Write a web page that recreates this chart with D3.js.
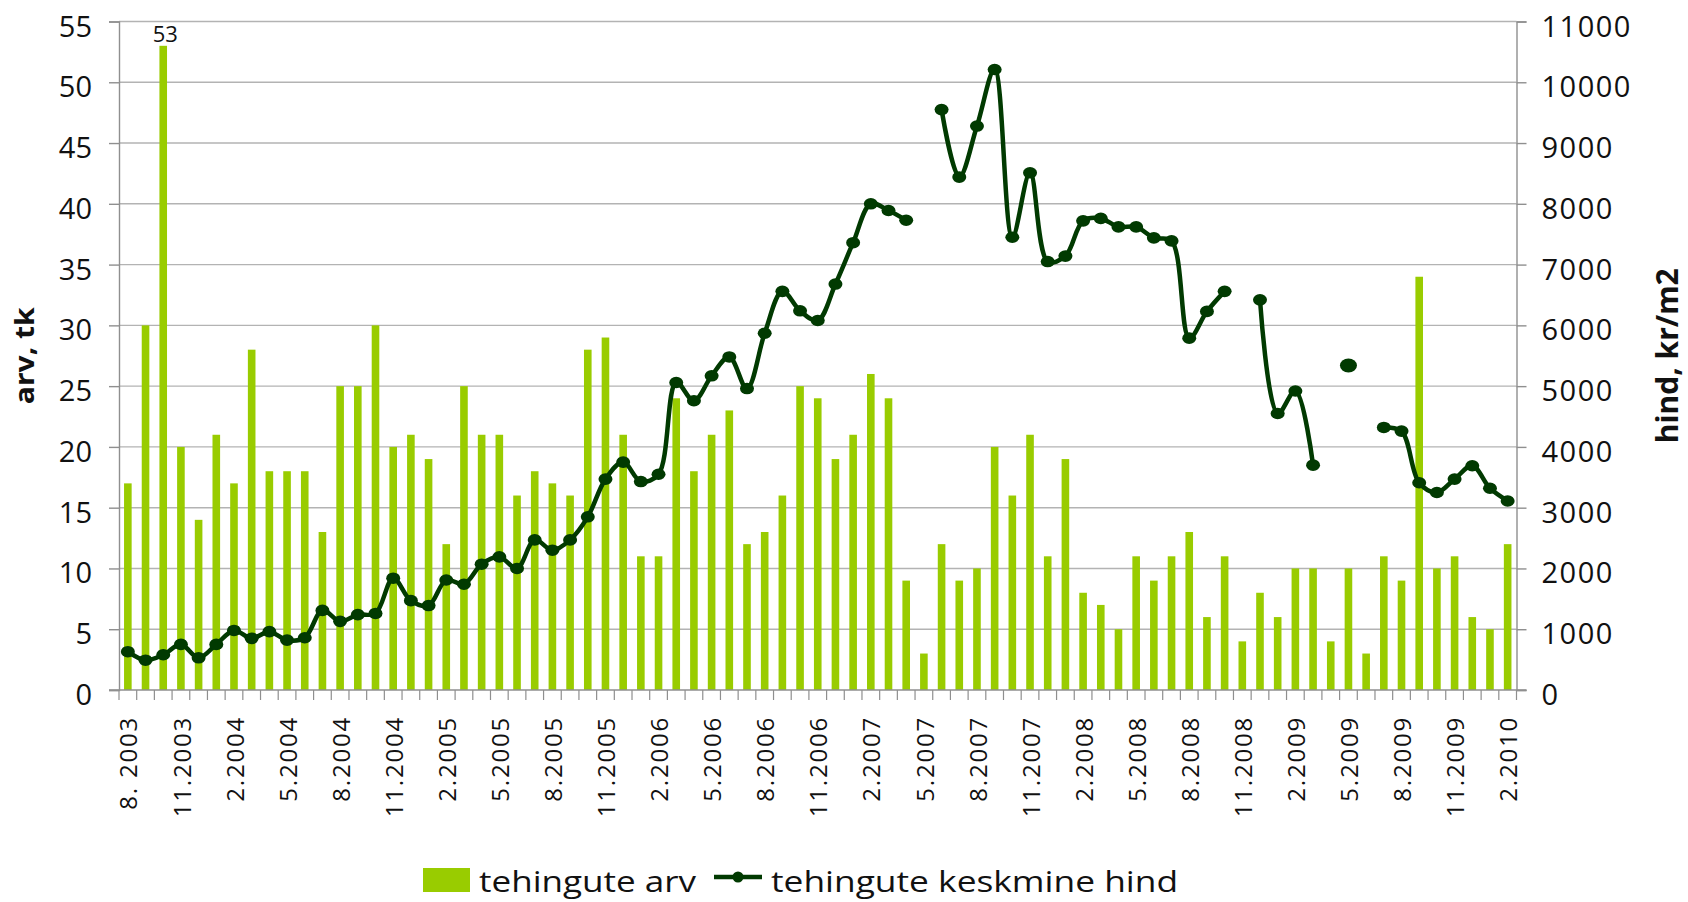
<!DOCTYPE html>
<html>
<head>
<meta charset="utf-8">
<script src="https://cdn.jsdelivr.net/npm/d3@7"></script>
<style>
  html, body { margin: 0; padding: 0; background: #ffffff; }
  svg { display: block; font-family: "Open Sans", "Liberation Sans", sans-serif; }
</style>
</head>
<body>
<svg id="chart" width="1688" height="902"></svg>
<script>
// Monthly categories, 8.2003 – 2.2010
const months = [
  "8.2003","9.2003","10.2003","11.2003","12.2003",
  "1.2004","2.2004","3.2004","4.2004","5.2004","6.2004","7.2004","8.2004","9.2004","10.2004","11.2004","12.2004",
  "1.2005","2.2005","3.2005","4.2005","5.2005","6.2005","7.2005","8.2005","9.2005","10.2005","11.2005","12.2005",
  "1.2006","2.2006","3.2006","4.2006","5.2006","6.2006","7.2006","8.2006","9.2006","10.2006","11.2006","12.2006",
  "1.2007","2.2007","3.2007","4.2007","5.2007","6.2007","7.2007","8.2007","9.2007","10.2007","11.2007","12.2007",
  "1.2008","2.2008","3.2008","4.2008","5.2008","6.2008","7.2008","8.2008","9.2008","10.2008","11.2008","12.2008",
  "1.2009","2.2009","3.2009","4.2009","5.2009","6.2009","7.2009","8.2009","9.2009","10.2009","11.2009","12.2009",
  "1.2010","2.2010"
];

// Number of transactions (left axis)
const dealCount = [
  17, 30, 53, 20, 14,
  21, 17, 28, 18, 18, 18, 13, 25, 25, 30, 20, 21,
  19, 12, 25, 21, 21, 16, 18, 17, 16, 28, 29, 21,
  11, 11, 24, 18, 21, 23, 12, 13, 16, 25, 24, 19,
  21, 26, 24, 9, 3, 12, 9, 10, 20, 16, 21, 11,
  19, 8, 7, 5, 11, 9, 11, 13, 6, 11, 4, 8,
  6, 10, 10, 4, 10, 3, 11, 9, 34, 10, 11, 6,
  5, 12
];

// Average transaction price, kr/m2 (right axis); null = no data that month
const avgPrice = [
  630, 490, 580, 750, 530,
  750, 980, 850, 960, 820, 860, 1310, 1130, 1240, 1260, 1840, 1470,
  1390, 1810, 1740, 2070, 2190, 2000, 2470, 2300, 2470, 2850, 3470, 3750,
  3430, 3550, 5060, 4760, 5170, 5480, 4960, 5870, 6560, 6240, 6080, 6680,
  7360, 8000, 7890, 7730, null, 9550, 8440, 9280, 10210, 7450, 8510, 7050,
  7140, 7720, 7760, 7620, 7620, 7440, 7390, 5790, 6230, 6560, null, 6420,
  4550, 4920, 3700, null, 5340, null, 4320, 4260, 3410, 3250, 3470, 3690,
  3320, 3110
];

// Category axis labels (every third month)
const tickMonths = ["8.2003","11.2003","2.2004","5.2004","8.2004","11.2004","2.2005","5.2005","8.2005",
  "11.2005","2.2006","5.2006","8.2006","11.2006","2.2007","5.2007","8.2007","11.2007","2.2008",
  "5.2008","8.2008","11.2008","2.2009","5.2009","8.2009","11.2009","2.2010"];
const tickText = ["8. 2003","11.2003","2.2004","5.2004","8.2004","11.2004","2.2005","5.2005","8.2005",
  "11.2005","2.2006","5.2006","8.2006","11.2006","2.2007","5.2007","8.2007","11.2007","2.2008",
  "5.2008","8.2008","11.2008","2.2009","5.2009","8.2009","11.2009","2.2010"];

const leftTicks = [0, 5, 10, 15, 20, 25, 30, 35, 40, 45, 50, 55];
const rightTicks = [0, 1000, 2000, 3000, 4000, 5000, 6000, 7000, 8000, 9000, 10000, 11000];

const seriesNames = ["tehingute arv", "tehingute keskmine hind"];
const axisTitles = ["arv, tk", "hind, kr/m2"];
const labelledValue = 53;

// ---- layout ----
const plot = { left: 119, right: 1516.5, top: 21.5, bottom: 690 };
const barColor = "#99cc00";
const lineColor = "#013a01";
const gridColor = "#b3b3b3";
const axisColor = "#8f8f8f";

const svg = d3.select("#chart");

const x = d3.scaleBand()
  .domain(months)
  .range([plot.left, plot.right])
  .paddingInner(0.57)
  .paddingOuter(0.285);

const yLeft = d3.scaleLinear().domain([0, 55]).range([plot.bottom, plot.top]);
const yRight = d3.scaleLinear().domain([0, 11000]).range([plot.bottom, plot.top]);

const cx = m => x(m) + x.bandwidth() / 2;

// gridlines
svg.append("g")
  .selectAll("line")
  .data(leftTicks.filter(t => t > 0))
  .join("line")
  .attr("x1", plot.left).attr("x2", plot.right)
  .attr("y1", d => yLeft(d)).attr("y2", d => yLeft(d))
  .attr("stroke", gridColor).attr("stroke-width", 1.4);

// bars
svg.append("g")
  .selectAll("rect")
  .data(months.map((m, i) => ({ m, v: dealCount[i] })))
  .join("rect")
  .attr("x", d => x(d.m))
  .attr("width", x.bandwidth())
  .attr("y", d => yLeft(d.v))
  .attr("height", d => yLeft(0) - yLeft(d.v))
  .attr("fill", barColor);

// value label on the tallest bar
const peakIdx = dealCount.indexOf(labelledValue);
svg.append("text")
  .attr("x", cx(months[peakIdx]) + 2)
  .attr("y", yLeft(labelledValue) - 4)
  .attr("text-anchor", "middle")
  .attr("font-size", 22)
  .attr("fill", "#111")
  .text(labelledValue);

// left axis
const leftAxis = d3.axisLeft(yLeft).tickValues(leftTicks).tickSize(10).tickPadding(17);
const gL = svg.append("g").attr("transform", `translate(${plot.left},0)`).call(leftAxis);
gL.select(".domain").attr("stroke", axisColor).attr("stroke-width", 1.4);
gL.selectAll(".tick line").attr("stroke", axisColor).attr("stroke-width", 1.4);
gL.selectAll(".tick text")
  .attr("font-size", 29).attr("fill", "#111")
  .attr("font-family", "'Open Sans', sans-serif")
  .attr("dy", "0.5em");

// right axis
const rightAxis = d3.axisRight(yRight).tickValues(rightTicks).tickFormat(d3.format("d"))
  .tickSize(10).tickPadding(15);
const gR = svg.append("g").attr("transform", `translate(${plot.right},0)`).call(rightAxis);
gR.select(".domain").attr("stroke", axisColor).attr("stroke-width", 1.4);
gR.selectAll(".tick line").attr("stroke", axisColor).attr("stroke-width", 1.4);
gR.selectAll(".tick text")
  .attr("font-size", 29).attr("fill", "#111")
  .attr("letter-spacing", 1.5)
  .attr("font-family", "'Open Sans', sans-serif")
  .attr("dy", "0.5em");

// category axis: baseline, boundary ticks, rotated labels
svg.append("line")
  .attr("x1", plot.left - 10).attr("x2", plot.right + 10)
  .attr("y1", plot.bottom).attr("y2", plot.bottom)
  .attr("stroke", axisColor).attr("stroke-width", 1.4);

const step = x.step();
const firstEdge = x(months[0]) - (step - x.bandwidth()) / 2;
svg.append("g")
  .selectAll("line")
  .data(d3.range(months.length + 1))
  .join("line")
  .attr("x1", i => firstEdge + i * step)
  .attr("x2", i => firstEdge + i * step)
  .attr("y1", plot.bottom).attr("y2", plot.bottom + 10)
  .attr("stroke", axisColor).attr("stroke-width", 1.2);

svg.append("g")
  .selectAll("text")
  .data(tickMonths.map((m, i) => ({ m, t: tickText[i] })))
  .join("text")
  .attr("transform", d => `translate(${cx(d.m) + 1},716) rotate(-90)`)
  .attr("text-anchor", "end")
  .attr("dy", "0.36em")
  .attr("font-size", 24)
  .attr("letter-spacing", 1.8)
  .attr("fill", "#111")
  .text(d => d.t);

// price line (gaps where data missing)
const pts = months.map((m, i) => ({ m, v: avgPrice[i], i }));
const line = d3.line()
  .defined(d => d.v !== null)
  .x(d => cx(d.m))
  .y(d => yRight(d.v))
  .curve(d3.curveCatmullRom.alpha(0.5));

svg.append("path")
  .datum(pts)
  .attr("d", line)
  .attr("fill", "none")
  .attr("stroke", lineColor)
  .attr("stroke-width", 4.5)
  .attr("stroke-linejoin", "round");

const isolated = d => {
  const prev = d.i > 0 ? avgPrice[d.i - 1] : null;
  const next = d.i < avgPrice.length - 1 ? avgPrice[d.i + 1] : null;
  return prev === null && next === null;
};

svg.append("g")
  .selectAll("ellipse")
  .data(pts.filter(d => d.v !== null))
  .join("ellipse")
  .attr("cx", d => cx(d.m))
  .attr("cy", d => yRight(d.v))
  .attr("rx", d => isolated(d) ? 8.5 : 7)
  .attr("ry", d => isolated(d) ? 7 : 5.8)
  .attr("fill", lineColor);

// axis titles
svg.append("text")
  .attr("transform", `translate(34,${(plot.top + plot.bottom) / 2}) rotate(-90)`)
  .attr("text-anchor", "middle")
  .attr("font-size", 27)
  .attr("font-weight", "bold")
  .attr("fill", "#111")
  .attr("textLength", 97)
  .attr("lengthAdjust", "spacingAndGlyphs")
  .text(axisTitles[0]);

svg.append("text")
  .attr("transform", `translate(1678,${(plot.top + plot.bottom) / 2}) rotate(-90)`)
  .attr("text-anchor", "middle")
  .attr("font-size", 30)
  .attr("font-weight", "bold")
  .attr("fill", "#111")
  .attr("textLength", 175)
  .attr("lengthAdjust", "spacingAndGlyphs")
  .text(axisTitles[1]);

// legend
const lg = svg.append("g");
lg.append("rect")
  .attr("x", 423).attr("y", 868).attr("width", 47).attr("height", 24)
  .attr("fill", barColor);
lg.append("text")
  .attr("x", 479).attr("y", 892)
  .attr("font-size", 30).attr("fill", "#111")
  .attr("textLength", 217).attr("lengthAdjust", "spacingAndGlyphs")
  .text(seriesNames[0]);
lg.append("line")
  .attr("x1", 714).attr("x2", 762).attr("y1", 877).attr("y2", 877)
  .attr("stroke", lineColor).attr("stroke-width", 4.5);
lg.append("ellipse")
  .attr("cx", 738).attr("cy", 877).attr("rx", 5.5).attr("ry", 5.5)
  .attr("fill", lineColor);
lg.append("text")
  .attr("x", 771).attr("y", 892)
  .attr("font-size", 30).attr("fill", "#111")
  .attr("textLength", 407).attr("lengthAdjust", "spacingAndGlyphs")
  .text(seriesNames[1]);
</script>
</body>
</html>
